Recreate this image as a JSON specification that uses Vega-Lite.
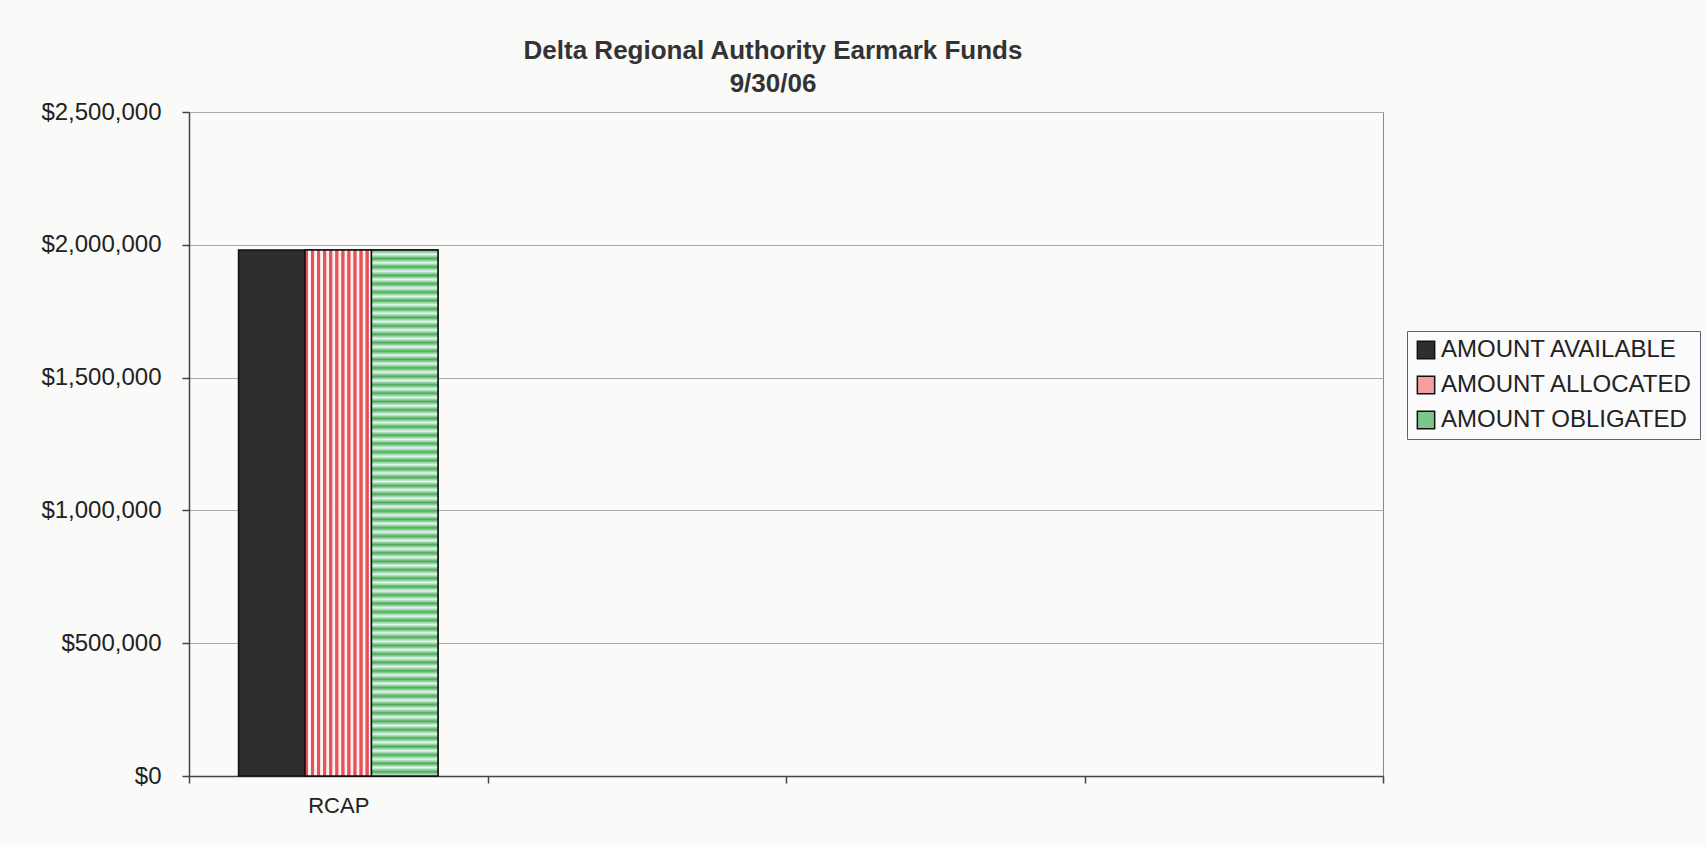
{
  "$schema": "https://vega.github.io/schema/vega-lite/v6.json",
  "width": 1194,
  "height": 664,
  "autosize": {"type": "none"},
  "padding": {"left": 189, "top": 112, "right": 323, "bottom": 69},
  "background": "#fafaf8",
  "title": {
    "text": ["Delta Regional Authority Earmark Funds", "9/30/06"],
    "fontSize": 26,
    "font": "Liberation Sans",
    "fontWeight": "bold",
    "color": "#333333",
    "anchor": "middle",
    "dx": -13,
    "offset": 3,
    "lineHeight": 33
  },
  "config": {
    "view": {"stroke": "#8a8a8a", "strokeWidth": 1},
    "axis": {"labelFont": "Liberation Sans", "labelColor": "#222222", "domainColor": "#444444", "tickColor": "#444444", "tickSize": 7, "domainWidth": 1.5, "tickWidth": 1.5}
  },
  "data": {
    "values": [
      {"category": "RCAP", "series": "AMOUNT AVAILABLE", "amount": 1980000},
      {"category": "RCAP", "series": "AMOUNT ALLOCATED", "amount": 1980000},
      {"category": "RCAP", "series": "AMOUNT OBLIGATED", "amount": 1980000}
    ]
  },
  "encoding": {
    "x": {
      "field": "category", "type": "nominal", "sort": null,
      "scale": {"domain": ["RCAP", "B", "C", "D"], "paddingInner": 0, "paddingOuter": 0},
      "axis": {"title": null, "labelAngle": 0, "labelFontSize": 22, "tickBand": "extent", "labelPadding": 12, "grid": false, "labelExpr": "datum.value == 'RCAP' ? 'RCAP' : ''"}
    },
    "xOffset": {
      "field": "series", "type": "nominal",
      "scale": {"domain": ["AMOUNT AVAILABLE", "AMOUNT ALLOCATED", "AMOUNT OBLIGATED"], "paddingInner": 0, "paddingOuter": 0.745}
    },
    "y": {
      "field": "amount", "type": "quantitative",
      "scale": {"domain": [0, 2500000]},
      "axis": {"title": null, "values": [0, 500000, 1000000, 1500000, 2000000, 2500000], "format": "$,.0f", "labelFontSize": 24, "labelPadding": 21, "grid": true, "gridColor": "#a8a8a8", "gridWidth": 1}
    }
  },
  "layer": [
    {
      "mark": {"type": "bar", "stroke": "#111111", "strokeWidth": 1.5},
      "encoding": {
        "fill": {
          "field": "series", "type": "nominal",
          "scale": {"domain": ["AMOUNT AVAILABLE", "AMOUNT ALLOCATED", "AMOUNT OBLIGATED"], "range": ["#2e2e2e", "#f2a0a0", "#7cc68c"]},
          "legend": {
            "title": null, "orient": "none", "legendX": 1218, "legendY": 219,
            "labelFontSize": 24, "labelFont": "Liberation Sans", "labelColor": "#222222",
            "symbolType": "square", "symbolSize": 300, "symbolStrokeColor": "#111111", "symbolStrokeWidth": 1.5, "symbolOpacity": 1,
            "strokeColor": "#6a5a7a", "padding": 7, "rowPadding": 11, "labelOffset": 3, "fillColor": "#fbfbfb", "labelLimit": 400
          }
        }
      }
    },
    {
      "transform": [{"filter": "datum.series == 'AMOUNT ALLOCATED'"}],
      "mark": {
        "type": "bar", "stroke": "#111111", "strokeWidth": 1.5,
        "fill": {"gradient": "linear", "x1": 0, "y1": 0, "x2": 1, "y2": 0, "stops": [
          {"offset": 0.0, "color": "#fbf3f0"},
          {"offset": 0.005, "color": "#e8505a"}, {"offset": 0.045, "color": "#e8505a"}, {"offset": 0.052, "color": "#fbf3f0"}, {"offset": 0.086, "color": "#fbf3f0"},
          {"offset": 0.096, "color": "#e8505a"}, {"offset": 0.136, "color": "#e8505a"}, {"offset": 0.143, "color": "#fbf3f0"}, {"offset": 0.177, "color": "#fbf3f0"},
          {"offset": 0.187, "color": "#e8505a"}, {"offset": 0.227, "color": "#e8505a"}, {"offset": 0.234, "color": "#fbf3f0"}, {"offset": 0.268, "color": "#fbf3f0"},
          {"offset": 0.278, "color": "#e8505a"}, {"offset": 0.318, "color": "#e8505a"}, {"offset": 0.325, "color": "#fbf3f0"}, {"offset": 0.359, "color": "#fbf3f0"},
          {"offset": 0.369, "color": "#e8505a"}, {"offset": 0.409, "color": "#e8505a"}, {"offset": 0.416, "color": "#fbf3f0"}, {"offset": 0.450, "color": "#fbf3f0"},
          {"offset": 0.460, "color": "#e8505a"}, {"offset": 0.500, "color": "#e8505a"}, {"offset": 0.507, "color": "#fbf3f0"}, {"offset": 0.541, "color": "#fbf3f0"},
          {"offset": 0.551, "color": "#e8505a"}, {"offset": 0.591, "color": "#e8505a"}, {"offset": 0.598, "color": "#fbf3f0"}, {"offset": 0.632, "color": "#fbf3f0"},
          {"offset": 0.641, "color": "#e8505a"}, {"offset": 0.681, "color": "#e8505a"}, {"offset": 0.688, "color": "#fbf3f0"}, {"offset": 0.722, "color": "#fbf3f0"},
          {"offset": 0.732, "color": "#e8505a"}, {"offset": 0.772, "color": "#e8505a"}, {"offset": 0.779, "color": "#fbf3f0"}, {"offset": 0.813, "color": "#fbf3f0"},
          {"offset": 0.823, "color": "#e8505a"}, {"offset": 0.863, "color": "#e8505a"}, {"offset": 0.870, "color": "#fbf3f0"}, {"offset": 0.904, "color": "#fbf3f0"},
          {"offset": 0.914, "color": "#e8505a"}, {"offset": 0.954, "color": "#e8505a"}, {"offset": 0.961, "color": "#fbf3f0"}, {"offset": 1.0, "color": "#fbf3f0"}
        ]}
      }
    },
    {
      "transform": [{"filter": "datum.series == 'AMOUNT OBLIGATED'"}],
      "mark": {
        "type": "bar", "stroke": "#111111", "strokeWidth": 1.5,
        "fill": {"gradient": "linear", "x1": 0, "y1": 0, "x2": 0, "y2": 1, "stops": [
          {"offset": 0.000, "color": "#4aad55"}, {"offset": 0.008, "color": "#e4f7f2"},
          {"offset": 0.016, "color": "#4aad55"}, {"offset": 0.024, "color": "#e4f7f2"},
          {"offset": 0.032, "color": "#4aad55"}, {"offset": 0.040, "color": "#e4f7f2"},
          {"offset": 0.048, "color": "#4aad55"}, {"offset": 0.056, "color": "#e4f7f2"},
          {"offset": 0.064, "color": "#4aad55"}, {"offset": 0.072, "color": "#e4f7f2"},
          {"offset": 0.080, "color": "#4aad55"}, {"offset": 0.088, "color": "#e4f7f2"},
          {"offset": 0.096, "color": "#4aad55"}, {"offset": 0.104, "color": "#e4f7f2"},
          {"offset": 0.112, "color": "#4aad55"}, {"offset": 0.120, "color": "#e4f7f2"},
          {"offset": 0.128, "color": "#4aad55"}, {"offset": 0.136, "color": "#e4f7f2"},
          {"offset": 0.144, "color": "#4aad55"}, {"offset": 0.152, "color": "#e4f7f2"},
          {"offset": 0.160, "color": "#4aad55"}, {"offset": 0.168, "color": "#e4f7f2"},
          {"offset": 0.176, "color": "#4aad55"}, {"offset": 0.184, "color": "#e4f7f2"},
          {"offset": 0.192, "color": "#4aad55"}, {"offset": 0.200, "color": "#e4f7f2"},
          {"offset": 0.208, "color": "#4aad55"}, {"offset": 0.216, "color": "#e4f7f2"},
          {"offset": 0.224, "color": "#4aad55"}, {"offset": 0.232, "color": "#e4f7f2"},
          {"offset": 0.240, "color": "#4aad55"}, {"offset": 0.248, "color": "#e4f7f2"},
          {"offset": 0.256, "color": "#4aad55"}, {"offset": 0.264, "color": "#e4f7f2"},
          {"offset": 0.272, "color": "#4aad55"}, {"offset": 0.280, "color": "#e4f7f2"},
          {"offset": 0.288, "color": "#4aad55"}, {"offset": 0.296, "color": "#e4f7f2"},
          {"offset": 0.304, "color": "#4aad55"}, {"offset": 0.312, "color": "#e4f7f2"},
          {"offset": 0.320, "color": "#4aad55"}, {"offset": 0.328, "color": "#e4f7f2"},
          {"offset": 0.336, "color": "#4aad55"}, {"offset": 0.344, "color": "#e4f7f2"},
          {"offset": 0.352, "color": "#4aad55"}, {"offset": 0.360, "color": "#e4f7f2"},
          {"offset": 0.368, "color": "#4aad55"}, {"offset": 0.376, "color": "#e4f7f2"},
          {"offset": 0.384, "color": "#4aad55"}, {"offset": 0.392, "color": "#e4f7f2"},
          {"offset": 0.400, "color": "#4aad55"}, {"offset": 0.408, "color": "#e4f7f2"},
          {"offset": 0.416, "color": "#4aad55"}, {"offset": 0.424, "color": "#e4f7f2"},
          {"offset": 0.432, "color": "#4aad55"}, {"offset": 0.440, "color": "#e4f7f2"},
          {"offset": 0.448, "color": "#4aad55"}, {"offset": 0.456, "color": "#e4f7f2"},
          {"offset": 0.464, "color": "#4aad55"}, {"offset": 0.472, "color": "#e4f7f2"},
          {"offset": 0.480, "color": "#4aad55"}, {"offset": 0.488, "color": "#e4f7f2"},
          {"offset": 0.496, "color": "#4aad55"}, {"offset": 0.504, "color": "#e4f7f2"},
          {"offset": 0.512, "color": "#4aad55"}, {"offset": 0.520, "color": "#e4f7f2"},
          {"offset": 0.528, "color": "#4aad55"}, {"offset": 0.536, "color": "#e4f7f2"},
          {"offset": 0.544, "color": "#4aad55"}, {"offset": 0.552, "color": "#e4f7f2"},
          {"offset": 0.560, "color": "#4aad55"}, {"offset": 0.568, "color": "#e4f7f2"},
          {"offset": 0.576, "color": "#4aad55"}, {"offset": 0.584, "color": "#e4f7f2"},
          {"offset": 0.592, "color": "#4aad55"}, {"offset": 0.600, "color": "#e4f7f2"},
          {"offset": 0.608, "color": "#4aad55"}, {"offset": 0.616, "color": "#e4f7f2"},
          {"offset": 0.624, "color": "#4aad55"}, {"offset": 0.632, "color": "#e4f7f2"},
          {"offset": 0.640, "color": "#4aad55"}, {"offset": 0.648, "color": "#e4f7f2"},
          {"offset": 0.656, "color": "#4aad55"}, {"offset": 0.664, "color": "#e4f7f2"},
          {"offset": 0.672, "color": "#4aad55"}, {"offset": 0.680, "color": "#e4f7f2"},
          {"offset": 0.688, "color": "#4aad55"}, {"offset": 0.696, "color": "#e4f7f2"},
          {"offset": 0.704, "color": "#4aad55"}, {"offset": 0.712, "color": "#e4f7f2"},
          {"offset": 0.720, "color": "#4aad55"}, {"offset": 0.728, "color": "#e4f7f2"},
          {"offset": 0.736, "color": "#4aad55"}, {"offset": 0.744, "color": "#e4f7f2"},
          {"offset": 0.752, "color": "#4aad55"}, {"offset": 0.760, "color": "#e4f7f2"},
          {"offset": 0.768, "color": "#4aad55"}, {"offset": 0.776, "color": "#e4f7f2"},
          {"offset": 0.784, "color": "#4aad55"}, {"offset": 0.792, "color": "#e4f7f2"},
          {"offset": 0.800, "color": "#4aad55"}, {"offset": 0.808, "color": "#e4f7f2"},
          {"offset": 0.816, "color": "#4aad55"}, {"offset": 0.824, "color": "#e4f7f2"},
          {"offset": 0.832, "color": "#4aad55"}, {"offset": 0.840, "color": "#e4f7f2"},
          {"offset": 0.848, "color": "#4aad55"}, {"offset": 0.856, "color": "#e4f7f2"},
          {"offset": 0.864, "color": "#4aad55"}, {"offset": 0.872, "color": "#e4f7f2"},
          {"offset": 0.880, "color": "#4aad55"}, {"offset": 0.888, "color": "#e4f7f2"},
          {"offset": 0.896, "color": "#4aad55"}, {"offset": 0.904, "color": "#e4f7f2"},
          {"offset": 0.912, "color": "#4aad55"}, {"offset": 0.920, "color": "#e4f7f2"},
          {"offset": 0.928, "color": "#4aad55"}, {"offset": 0.936, "color": "#e4f7f2"},
          {"offset": 0.944, "color": "#4aad55"}, {"offset": 0.952, "color": "#e4f7f2"},
          {"offset": 0.960, "color": "#4aad55"}, {"offset": 0.968, "color": "#e4f7f2"},
          {"offset": 0.976, "color": "#4aad55"}, {"offset": 0.984, "color": "#e4f7f2"},
          {"offset": 0.992, "color": "#4aad55"}, {"offset": 1.000, "color": "#e4f7f2"}
        ]}
      }
    }
  ]
}
